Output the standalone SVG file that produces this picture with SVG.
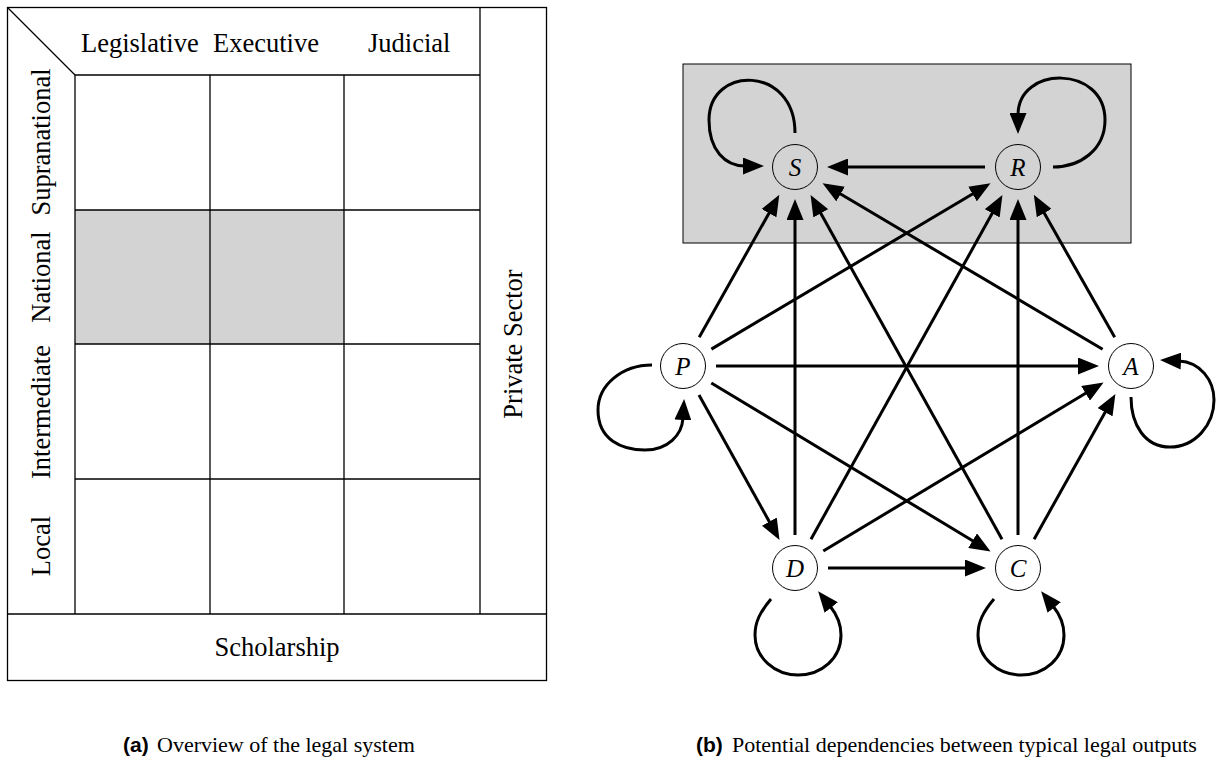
<svg xmlns="http://www.w3.org/2000/svg" width="1216" height="766" viewBox="0 0 1216 766">
<style>
.grid{fill:none;stroke:#000;stroke-width:1.3}
.lbl{font-family:"Liberation Serif","Times New Roman",serif;font-size:26.5px;fill:#000}
.node circle{fill:none;stroke:#000;stroke-width:1}
.node text{font-family:"Liberation Serif","Times New Roman",serif;font-style:italic;font-size:25px;text-anchor:middle;fill:#000}
.edge{fill:none;stroke:#000;stroke-width:3;marker-end:url(#ah)}
.cap{font-family:"Liberation Serif","Times New Roman",serif;font-size:22px;fill:#000}
.capb{font-family:"Liberation Sans",Arial,sans-serif;font-weight:bold;font-size:21px;fill:#000}
</style>
<defs>
<marker id="ah" markerUnits="userSpaceOnUse" markerWidth="21" markerHeight="17" viewBox="0 0 21 17" refX="2" refY="8.5" orient="auto">
<path d="M0,0 L21,8.5 L0,17 z" fill="#000"/>
</marker>
</defs>
<rect width="1216" height="766" fill="#fff"/>

<g id="panel-a">
<g id="shaded-cells">
<rect x="75" y="210" width="135" height="134" fill="#d3d3d3"/>
<rect x="210" y="210" width="134" height="134" fill="#d3d3d3"/>
</g>
<g id="grid-lines" class="grid">
<rect x="7.5" y="7.5" width="539" height="673"/>
<line x1="7.5" y1="7.5" x2="75" y2="75"/>
<line x1="75" y1="75" x2="480" y2="75"/>
<line x1="75" y1="75" x2="75" y2="614"/>
<line x1="210" y1="75" x2="210" y2="614"/>
<line x1="344" y1="75" x2="344" y2="614"/>
<line x1="480" y1="7.5" x2="480" y2="614"/>
<line x1="75" y1="210" x2="480" y2="210"/>
<line x1="75" y1="344" x2="480" y2="344"/>
<line x1="75" y1="479" x2="480" y2="479"/>
<line x1="7.5" y1="614" x2="546.5" y2="614"/>
</g>
<g id="col-labels" class="lbl">
<text x="81" y="52">Legislative</text>
<text x="213" y="52">Executive</text>
<text x="368" y="52">Judicial</text>
</g>
<g id="row-labels" class="lbl" text-anchor="middle">
<text transform="translate(50,142) rotate(-90)">Supranational</text>
<text transform="translate(50,277) rotate(-90)">National</text>
<text transform="translate(50,412) rotate(-90)">Intermediate</text>
<text transform="translate(50,546) rotate(-90)">Local</text>
<text transform="translate(522,344) rotate(-90)">Private Sector</text>
<text x="277" y="656">Scholarship</text>
</g>
</g>

<g id="panel-b">
<rect id="group-SR" x="683" y="64" width="448" height="179" fill="#d3d3d3" stroke="#000" stroke-width="1"/>
<g id="connectors">
<line class="edge" x1="985" y1="167" x2="846" y2="167"/>
<line class="edge" x1="699.2" y1="337.2" x2="770" y2="211.4"/>
<line class="edge" x1="711.4" y1="349.1" x2="974.2" y2="193"/>
<line class="edge" x1="716" y1="366" x2="1080" y2="366"/>
<line class="edge" x1="699" y1="394.9" x2="770.3" y2="523.4"/>
<line class="edge" x1="711.3" y1="383" x2="974.3" y2="541.7"/>
<line class="edge" x1="795" y1="535" x2="795" y2="218"/>
<line class="edge" x1="811" y1="539.2" x2="993.2" y2="211.6"/>
<line class="edge" x1="823.3" y1="551" x2="1087.3" y2="392.3"/>
<line class="edge" x1="828" y1="568" x2="967" y2="568"/>
<line class="edge" x1="1002" y1="539.2" x2="819.8" y2="211.6"/>
<line class="edge" x1="1018" y1="535" x2="1018" y2="218"/>
<line class="edge" x1="1034.1" y1="539.2" x2="1106.1" y2="410.5"/>
<line class="edge" x1="1102.6" y1="349.2" x2="838.9" y2="193"/>
<line class="edge" x1="1114.7" y1="337.3" x2="1043.2" y2="211.3"/>
<path class="edge" d="M795,133 C795,65 709,65 709,120 C709,150 725,166 745,166"/>
<path class="edge" d="M1053,167 C1080,167 1105,150 1105,120 C1105,65 1018,65 1018,115"/>
<path class="edge" d="M652,365 C622,365 598,385 598,410 C598,440 622,450 645,450 C668,450 682,435 683,418"/>
<path class="edge" d="M1131,397 C1131,425 1145,447 1170,447 C1195,447 1214,425 1214,400 C1214,380 1200,362 1179,361"/>
<path class="edge" d="M771,599 C760,612 755,622 755,635 C755,658 775,675 798,675 C822,675 841,658 841,635 C841,625 838,616 830,606"/>
<path class="edge" d="M994,599 C983,612 978,622 978,635 C978,658 998,675 1021,675 C1045,675 1064,658 1064,635 C1064,625 1061,616 1053,606"/>
</g>
<g id="node-S" class="node"><circle cx="795" cy="167" r="22.5"/><text x="795" y="176">S</text></g>
<g id="node-R" class="node"><circle cx="1018" cy="167" r="22.5"/><text x="1018" y="176">R</text></g>
<g id="node-P" class="node"><circle cx="683" cy="366" r="22.5"/><text x="683" y="375">P</text></g>
<g id="node-A" class="node"><circle cx="1131" cy="366" r="22.5"/><text x="1131" y="375">A</text></g>
<g id="node-D" class="node"><circle cx="795" cy="568" r="22.5"/><text x="795" y="577">D</text></g>
<g id="node-C" class="node"><circle cx="1018" cy="568" r="22.5"/><text x="1018" y="577">C</text></g>
</g>

<g id="captions">
<text class="capb" x="123" y="752">(a)</text>
<text class="cap" x="157" y="752">Overview of the legal system</text>
<text class="capb" x="696" y="752">(b)</text>
<text class="cap" x="732" y="752">Potential dependencies between typical legal outputs</text>
</g>
</svg>
